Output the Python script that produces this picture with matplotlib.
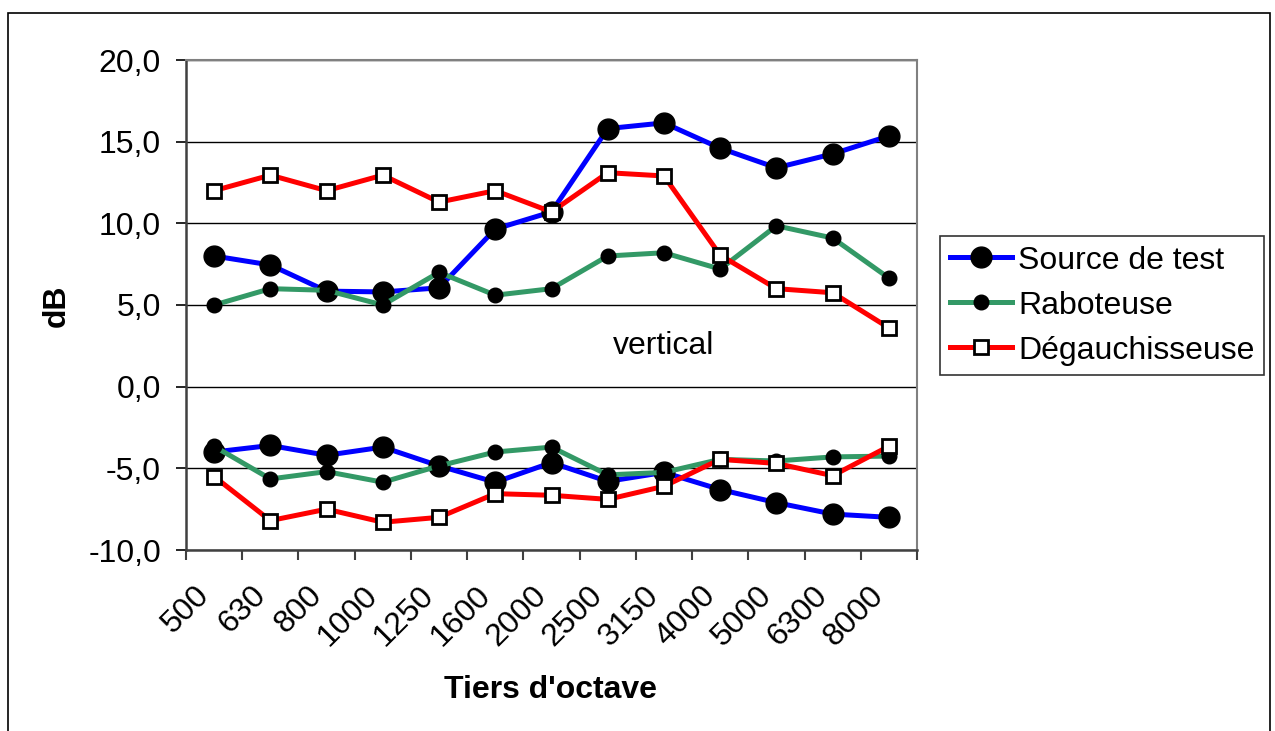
import matplotlib
matplotlib.use("Agg")
import numpy as np
import matplotlib.pyplot as plt
from matplotlib.patches import Rectangle
from matplotlib.transforms import ScaledTranslation

plt.rcParams['font.family'] = ['Liberation Sans', 'DejaVu Sans']

bands = ['500', '630', '800', '1000', '1250', '1600', '2000', '2500',
         '3150', '4000', '5000', '6300', '8000']

# upper curves
source_up = [8.0, 7.45, 5.85, 5.8, 6.05, 9.65, 10.7, 15.8, 16.15, 14.6, 13.4, 14.25, 15.35]
rabot_up = [5.0, 6.0, 5.9, 5.0, 7.0, 5.6, 6.0, 8.0, 8.2, 7.2, 9.85, 9.1, 6.65]
degau_up = [12.0, 12.95, 12.0, 12.95, 11.3, 12.0, 10.7, 13.1, 12.9, 8.05, 6.0, 5.75, 3.6]

# lower curves
source_lo = [-4.0, -3.6, -4.2, -3.7, -4.85, -5.85, -4.65, -5.8, -5.25, -6.3, -7.1, -7.8, -8.0]
rabot_lo = [-3.65, -5.65, -5.2, -5.85, -4.85, -4.0, -3.7, -5.4, -5.25, -4.45, -4.55, -4.3, -4.25]
degau_lo = [-5.5, -8.2, -7.5, -8.3, -8.0, -6.55, -6.65, -6.9, -6.1, -4.45, -4.7, -5.45, -3.65]

x = np.arange(len(bands))
fs = 23

fig = plt.figure(figsize=(12.75, 7.31), dpi=100)
ax = fig.add_axes([186 / 1275, 1 - 550 / 731, 731 / 1275, 490 / 731])

# outer chart frame
fig.patches.append(Rectangle((8 / 1275, -0.02), 1262 / 1275, 1 - 13 / 731 + 0.02,
                             transform=fig.transFigure, fill=False,
                             edgecolor='black', linewidth=1.2))

ax.set_axisbelow(True)
ax.grid(axis='y', color='black', linewidth=1.0)

blue = dict(color='#0000ff', lw=3.6, marker='o', ms=15, mfc='black', mec='black')
green = dict(color='#339966', lw=3.6, marker='o', ms=10.5, mfc='black', mec='black')
red = dict(color='#ff0000', lw=3.6, marker='s', ms=10, mfc='white', mec='black', mew=2)

ax.plot(x, source_up, label='Source de test', **blue)
ax.plot(x, rabot_up, label='Raboteuse', **green)
ax.plot(x, degau_up, label='Dégauchisseuse', **red)
ax.plot(x, source_lo, **blue)
ax.plot(x, rabot_lo, **green)
ax.plot(x, degau_lo, **red)

ax.set_xlim(-0.5, len(bands) - 0.5)
ax.set_ylim(-10, 20)
ax.set_yticks(np.arange(-10, 21, 5))
ax.set_yticklabels([f'{v:.1f}'.replace('.', ',') for v in np.arange(-10, 21, 5)])

ax.set_xticks(x)
ax.set_xticklabels(bands, rotation=45, ha='right', rotation_mode='anchor')
ax.set_xticks(np.arange(-0.5, len(bands), 1), minor=True)
ax.tick_params(axis='x', which='major', length=0, pad=22, labelsize=fs)
ax.tick_params(axis='x', which='minor', length=7, width=1.5, color='#404040', direction='out')
ax.tick_params(axis='y', length=7, width=1.2, pad=11, labelsize=fs, direction='out')

# nudge rotated labels left, as in the original
shift = ScaledTranslation(-20 / 100, 0, fig.dpi_scale_trans)
for lab in ax.get_xticklabels():
    lab.set_transform(lab.get_transform() + shift)

for s in ['left', 'bottom']:
    ax.spines[s].set_color('#404040')
    ax.spines[s].set_linewidth(1.8)
for s in ['top', 'right']:
    ax.spines[s].set_color('#808080')
    ax.spines[s].set_linewidth(1.5)

fig.text(57 / 1275, 1 - 306 / 731, 'dB', fontsize=fs, fontweight='bold',
         rotation=90, ha='center', va='center')
fig.text(551 / 1275, 1 - 690 / 731, "Tiers d'octave", fontsize=fs, fontweight='bold',
         ha='center', va='center')

ax.text(8.0, 2.5, 'vertical', fontsize=fs, ha='center', va='center')

leg = fig.legend(loc='upper left', bbox_to_anchor=(940 / 1275, 1 - 236 / 731),
                 fontsize=fs, frameon=True, fancybox=False, edgecolor='black',
                 handlelength=1.95, handletextpad=0.2, labelspacing=0.47,
                 borderpad=0.3, borderaxespad=0)
leg.get_frame().set_linewidth(1.2)

fig.savefig('out.png', dpi=100)
